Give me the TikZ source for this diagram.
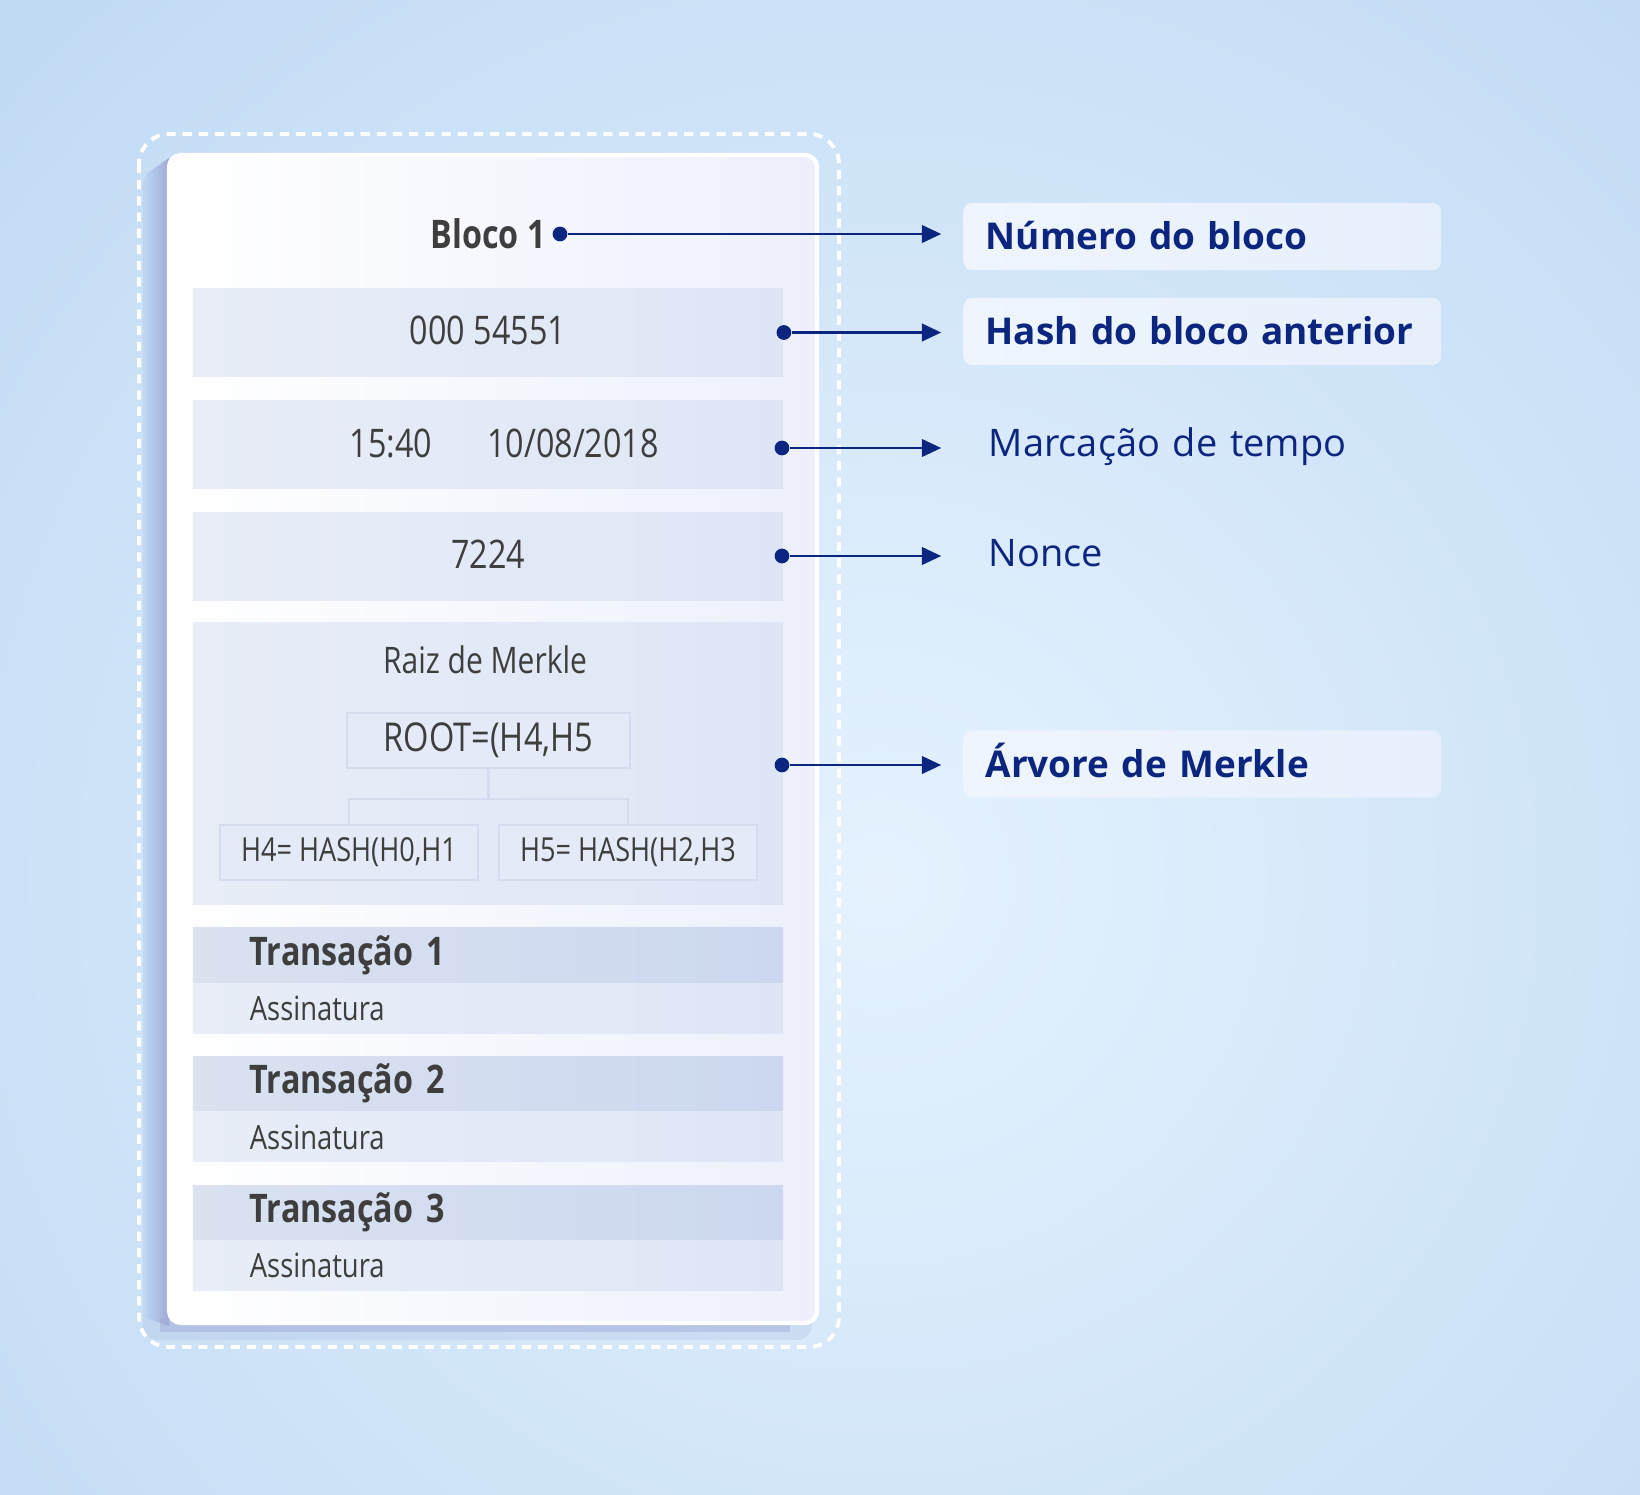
\documentclass[tikz,border=0pt]{standalone}
\usepackage{fontspec}
\setmainfont{Open Sans}
\newfontfamily\narrow[FakeStretch=0.82]{Open Sans}
\usetikzlibrary{arrows.meta,positioning}

\definecolor{navy}{RGB}{12,38,128}
\definecolor{ink}{RGB}{62,62,62}
\definecolor{bgout}{RGB}{183,212,241}
\definecolor{bgin}{RGB}{229,242,254}
\definecolor{rowl}{RGB}{232,237,247}
\definecolor{rowr}{RGB}{222,230,246}
\definecolor{headl}{RGB}{218,226,240}
\definecolor{headr}{RGB}{204,216,240}
\definecolor{cardr}{RGB}{237,240,252}
\definecolor{tagl}{RGB}{238,245,254}
\definecolor{tagr}{RGB}{230,239,252}
\definecolor{edge}{RGB}{212,220,240}
\definecolor{shadow}{RGB}{160,170,214}

\tikzset{
  row/.style={minimum width=5.9cm, minimum height=0.87cm, inner sep=0,
    left color=rowl, right color=rowr, text=ink,
    text height=0.9em, text depth=0.2em,
    font=\narrow\fontsize{11.2}{13}\selectfont},
  txhead/.style={minimum height=0.54cm, inner xsep=0.57cm, inner ysep=0,
    text width=4.76cm, align=left, left color=headl, right color=headr,
    text=ink, font=\narrow\bfseries\fontsize{11.2}{13}\selectfont},
  txbody/.style={txhead, minimum height=0.5cm, left color=rowl,
    right color=rowr, font=\narrow\fontsize{9.5}{11}\selectfont},
  hashbox/.style={draw=edge, line width=0.6pt, fill=rowl!60!rowr,
    minimum height=0.55cm, inner sep=0, text=ink},
  tag/.style={anchor=west, minimum height=0.67cm, inner xsep=0.25cm,
    text width=4.27cm, align=left, text=navy,
    text height=0.92em, text depth=0.18em,
    font=\fontsize{10.8}{12}\selectfont},
  tagbox/.style={tag, inner xsep=0.22cm, text width=4.33cm,
    rounded corners=0.08cm, left color=tagl, right color=tagr,
    font=\bfseries\fontsize{10.5}{12}\selectfont},
  dot/.style={circle, fill=navy, inner sep=0, minimum size=4.2pt},
  link/.style={navy, line width=0.7pt, -{Triangle[length=5.5pt,width=5pt]},
    shorten >=6.2pt},
  tree/.style={edge, line width=0.6pt}
}

\begin{document}
\begin{tikzpicture}[x=0.01cm, y=-0.01cm]
  \useasboundingbox (0,0) rectangle (1640,1494);
  \fill[bgout] (0,0) rectangle (1640,1494);
  \begin{scope}
    \clip (0,0) rectangle (1640,1494);
    \shade[inner color=bgin, outer color=bgout] (880,880) circle (1550);
  \end{scope}

  \draw[white, line width=1.1pt, dash pattern=on 2.6pt off 2pt,
    rounded corners=0.3cm] (139,134) rectangle (839,1347);

  \fill[shadow, opacity=0.2, rounded corners=0.15cm] (143,170) rectangle (812,1340);
  \shade[left color=bgout, right color=shadow] (146,174) -- (169,158)
    -- (169,1326) -- (146,1318) -- cycle;
  \fill[shadow, opacity=0.45] (160,1318) rectangle (790,1332);
  \shade[left color=white, right color=cardr, draw=white, line width=1.2pt,
    rounded corners=0.12cm] (169,155) rectangle (817,1323);

  \node[font=\narrow\bfseries\fontsize{11.2}{13}\selectfont, text=ink]
    (bloco) at (488,234) {Bloco 1};
  \node[dot] (d1) at (560,234) {};

  \node[row] (hash) at (488,332.5) {000 54551};
  \node[row] (time) at (488,444.5) {};
  \node[text=ink, font=\narrow\fontsize{11.2}{13}\selectfont] (hora) at (391,443) {15:40};
  \node[text=ink, font=\narrow\fontsize{11.2}{13}\selectfont] (data) at (573,443) {10/08/2018};
  \node[row] (nonce) at (488,556.5) {7224};
  \node[row, minimum height=2.81cm] (merkle) at (488,763.5) {};
  \node[text=ink, font=\narrow\fontsize{10.4}{12}\selectfont] (raiz) at (485,660) {Raiz de Merkle};

  \node[hashbox, minimum width=2.83cm, font=\narrow\fontsize{11.3}{13}\selectfont]
    (root) at (488.5,740.5) {ROOT=(H4,H5};
  \node[hashbox, minimum width=2.58cm, font=\narrow\fontsize{9.4}{11}\selectfont]
    (h4) at (349,852.5) {H4= HASH(H0,H1};
  \node[hashbox, minimum width=2.58cm, font=\narrow\fontsize{9.4}{11}\selectfont]
    (h5) at (628,852.5) {H5= HASH(H2,H3};
  \draw[tree] (root.south) -- ++(0,30) -| (h4.north);
  \draw[tree] (root.south) -- ++(0,30) -| (h5.north);

  \foreach \i/\y in {1/955,2/1083.5,3/1212} {
    \node[txhead] (tx\i) at (488,\y) {Transação \i};
    \node[txbody, below=0pt of tx\i] (sig\i) {Assinatura};
  }

  \node[dot] (d2) at (hash.east) {};
  \node[dot] (d3) at (782,448) {};
  \node[dot] (d4) at (782,556) {};
  \node[dot] (d5) at (782,765) {};

  \node[tagbox] (l1) at (963,236.5) {Número do bloco};
  \node[tagbox] (l2) at (963,331.5) {Hash do bloco anterior};
  \node[tag] (l3) at (963,443) {Marcação de tempo};
  \node[tag] (l4) at (963,553) {Nonce};
  \node[tagbox] (l5) at (963,764) {Árvore de Merkle};

  \foreach \i in {1,...,5}
    \draw[link] (d\i) -- (d\i -| l\i.west);
\end{tikzpicture}
\end{document}
